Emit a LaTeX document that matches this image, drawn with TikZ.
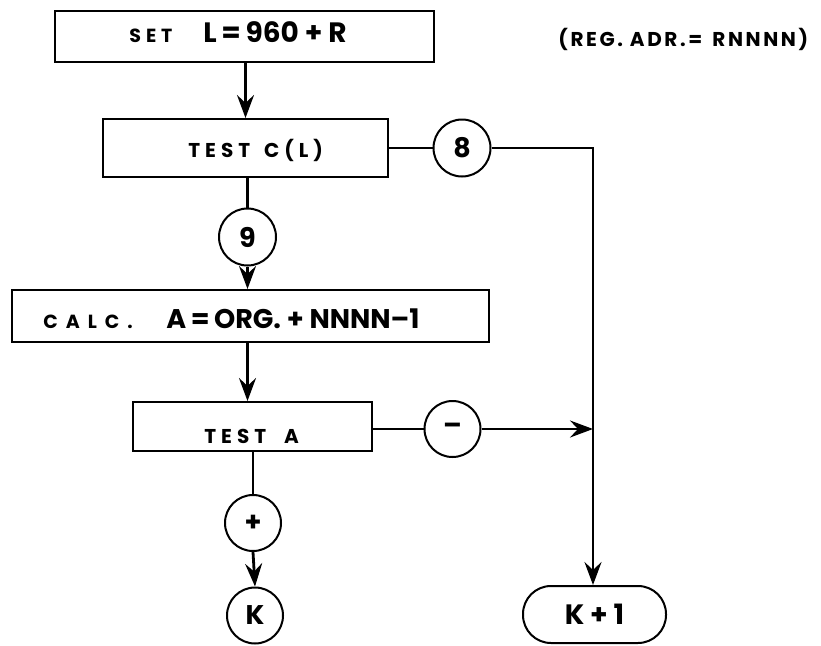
\documentclass[tikz,border=0pt]{standalone}
\usepackage{fontspec}
\setmainfont{Poppins}
\usetikzlibrary{arrows.meta}
\begin{document}
\begin{tikzpicture}[x=1pt,y=-1pt,
  line width=2.8pt,
  every node/.style={font=\bfseries},
  box/.style={draw, line width=2pt, rectangle, inner sep=0pt},
  lbl/.style={anchor=base west, inner sep=0pt},
  wide/.style={lbl, font=\bfseries\fontsize{20}{20}\selectfont\addfontfeature{LetterSpace=25}},
  conn/.style={draw, circle, line width=2pt, minimum size=57pt, inner sep=0pt, font=\bfseries\fontsize{27}{27}\selectfont},
  arr/.style={-{Stealth[length=23pt,width=17pt,inset=8pt]}}]
\useasboundingbox (0,0) rectangle (821,645);
% boxes
\node[box, minimum width=379pt, minimum height=51pt] (b1) at (244.5,36.5) {};
\node[box, minimum width=285pt, minimum height=58pt] (b2) at (245.5,148) {};
\node[box, minimum width=477pt, minimum height=52pt] (b3) at (250.5,316) {};
\node[box, minimum width=239pt, minimum height=49pt] (b4) at (252.5,426.5) {};
% texts
\node[lbl, font=\bfseries\fontsize{19}{19}\selectfont\addfontfeature{LetterSpace=26}] (t1a) at (128,42) {SET};
\node[lbl, font=\bfseries\fontsize{28}{28}\selectfont] (t1b) at (202,42) {L\,=\,960 + R};
\node[wide] (t2) at (187,157) {TEST\hspace{14pt}C(L)};
\node[lbl, font=\bfseries\fontsize{19}{19}\selectfont\addfontfeature{LetterSpace=42}] (t3a) at (42,328) {CALC.};
\node[lbl, font=\bfseries\fontsize{27}{27}\selectfont] (t3b) at (165,328) {A\,=\,ORG. + NNNN--1};
\node[wide] (t4) at (203,443) {TEST\hspace{18pt}A};
\node[lbl, font=\bfseries\fontsize{20}{20}\selectfont\addfontfeature{LetterSpace=13}] (reg) at (557,46) {(REG. ADR.=\, RNNNN)};
% connectors' circles
\node[conn] (c8) at (462,148) {8};
\node[conn] (c9) at (247.5,237) {9};
\node[conn, minimum size=56pt] (cm) at (452.5,429) {--};
\node[conn, minimum size=56pt] (cp) at (253,523) {+};
\node[conn, minimum size=56pt] (ck) at (255,615.5) {K};
\node[draw, line width=2pt, rounded corners=28pt, minimum width=143pt, minimum height=57pt, inner sep=0pt, font=\bfseries\fontsize{28}{28}\selectfont] (k1) at (594.5,614.5) {K + 1};
\coordinate (corner) at (593,148);
\coordinate (jn) at (593,429);
% connectors
\draw[arr] (b2.north |- b1.south) -- (b2.north);
\draw (c9.north |- b2.south) -- (c9.north);
\draw[arr] (c9.south) -- (c9.south |- b3.north);
\draw[arr] (c9.south |- b3.south) -- (c9.south |- b4.north);
\draw (cp.north |- b4.south) -- (cp.north);
\draw[arr] (cp.south) -- (ck.north);
\draw (b2.east) -- (c8.west);
\draw[arr] (c8.east) -- (corner) -- (k1.north -| corner);
\draw (b4.east |- cm) -- (cm.west);
\draw[arr] (cm.east) -- (jn);
\end{tikzpicture}
\end{document}
